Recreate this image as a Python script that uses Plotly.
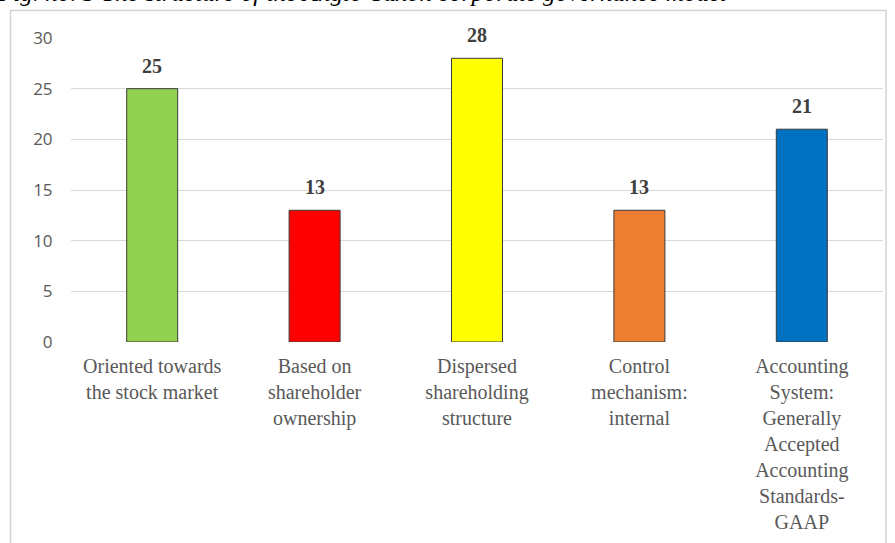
import plotly.graph_objects as go

# Anglo-Saxon corporate governance model: features and their scores
categories = [
    "Oriented towards the stock market",
    "Based on shareholder ownership",
    "Dispersed shareholding structure",
    "Control mechanism: internal",
    "Accounting System: Generally Accepted Accounting Standards-GAAP",
]
tick_labels = [
    "Oriented towards<br>the stock market",
    "Based on<br>shareholder<br>ownership",
    "Dispersed<br>shareholding<br>structure",
    "Control<br>mechanism:<br>internal",
    "Accounting<br>System:<br>Generally<br>Accepted<br>Accounting<br>Standards-<br>GAAP",
]
values = [25, 13, 28, 13, 21]
bar_colors = ["#92D050", "#FF0000", "#FFFF00", "#ED7D31", "#0070C0"]
y_ticks = [0, 5, 10, 15, 20, 25, 30]

caption = "Fig. no. 3 The structure of the Anglo-Saxon corporate governance model"

SERIF = "Liberation Serif"

fig = go.Figure()
fig.add_trace(
    go.Bar(
        x=categories,
        y=values,
        marker=dict(color=bar_colors, line=dict(color="#3a3a3a", width=1)),
        hoverinfo="x+y",
        showlegend=False,
    )
)

# value labels above each bar, taken from the same values
for cat, val in zip(categories, values):
    fig.add_annotation(
        x=cat, y=val, xref="x", yref="y",
        text="<b>" + str(val) + "</b>", showarrow=False,
        yanchor="bottom", yshift=10,
        font=dict(family=SERIF, size=20, color="#404040"),
    )

# figure caption, running off the top edge of the page
fig.add_annotation(
    x=725 / 895, y=1.0, xref="paper", yref="paper",
    text="<i>" + caption + "</i>", showarrow=False,
    xanchor="right", yanchor="middle", yshift=46,
    font=dict(family=SERIF, size=25, color="#000000"),
)

# chart frame
plot_w, plot_h = 812.0, 304.0
left, top = 71.0, 38.0
fig.add_shape(
    type="rect", xref="paper", yref="paper",
    x0=(10.5 - left) / plot_w, x1=(886 - left) / plot_w,
    y0=-(600 - top - plot_h) / plot_h, y1=1 + (top - 10.5) / plot_h,
    line=dict(color="#d4d4d4", width=1.5),
    fillcolor="rgba(0,0,0,0)", layer="below",
)

fig.update_layout(
    width=895, height=543,
    margin=dict(l=71, r=12, t=38, b=201, pad=0),
    paper_bgcolor="white", plot_bgcolor="white",
    font=dict(family=SERIF, size=20, color="#595959"),
    bargap=0.686,
)
fig.update_xaxes(
    tickmode="array", tickvals=categories, ticktext=tick_labels,
    tickangle=0, showgrid=False, showline=False, zeroline=False,
    automargin=False,
    ticks="outside", ticklen=6, tickcolor="rgba(0,0,0,0)",
    tickfont=dict(family=SERIF, size=20, color="#595959"),
)
fig.update_yaxes(
    range=[0, 30], tickvals=y_ticks,
    showgrid=True, gridcolor="#d9d9d9", gridwidth=1.3,
    zeroline=False, showline=False, automargin=False,
    ticks="outside", ticklen=14, tickcolor="rgba(0,0,0,0)",
    tickfont=dict(family="Open Sans", size=17, color="#595959"),
)

fig.write_html("out.html")
